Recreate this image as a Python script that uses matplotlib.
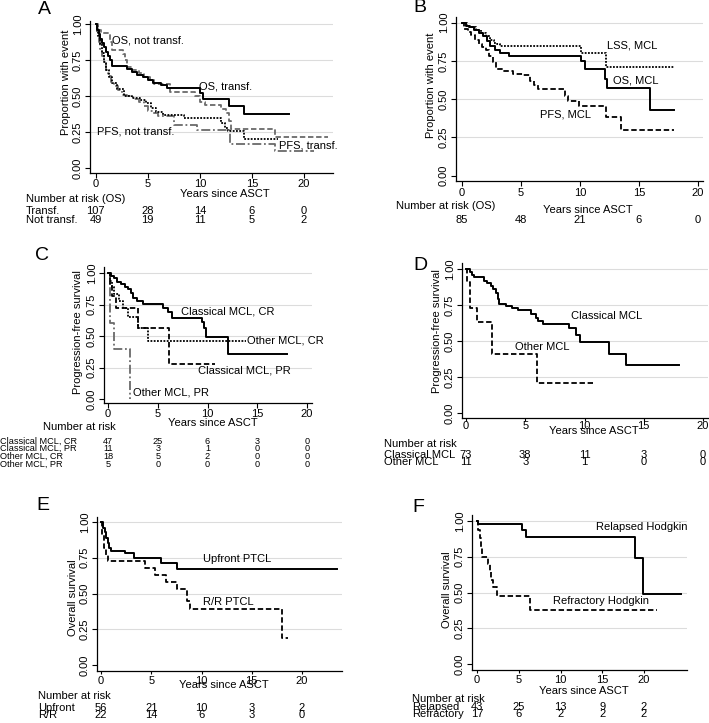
import numpy as np
import matplotlib
matplotlib.use("Agg")
import matplotlib.pyplot as plt
from matplotlib.transforms import blended_transform_factory

plt.rcParams['font.family'] = ['Liberation Sans', 'DejaVu Sans']

W, H = 709, 723

# ---- data ----
# A: transformed vs not transformed
a_os_tr_t = [0, 0.15, 0.3, 0.45, 0.6, 0.8, 1.0, 1.2, 1.4, 1.6, 3.0, 3.5, 4.0, 4.5, 5.0, 5.5, 6.3, 6.8, 10.0, 10.3, 12.8, 14.2, 18.6]
a_os_tr_s = [1.0, 0.96, 0.93, 0.90, 0.87, 0.84, 0.81, 0.78, 0.75, 0.71, 0.69, 0.67, 0.65, 0.63, 0.61, 0.59, 0.575, 0.555, 0.52, 0.48, 0.43, 0.375, 0.375]
a_os_nt_t = [0, 0.2, 0.5, 1.4, 1.6, 2.6, 2.8, 3.0, 3.5, 4.2, 4.6, 5.2, 5.6, 7.1, 9.5, 10.0, 10.5, 12.0, 12.5, 12.8, 13.0, 17.2, 22.3]
a_os_nt_s = [1.0, 0.96, 0.94, 0.88, 0.82, 0.79, 0.75, 0.70, 0.68, 0.66, 0.63, 0.61, 0.585, 0.53, 0.50, 0.46, 0.44, 0.41, 0.38, 0.33, 0.27, 0.215, 0.215]
a_pfs_tr_t = [0, 0.2, 0.4, 0.6, 0.8, 1.0, 1.3, 1.6, 2.0, 2.7, 3.5, 4.3, 4.8, 5.3, 5.8, 6.5, 8.5, 12.0, 12.4, 12.7, 14.2, 17.5]
a_pfs_tr_s = [1.0, 0.92, 0.86, 0.80, 0.74, 0.68, 0.63, 0.59, 0.55, 0.50, 0.49, 0.47, 0.45, 0.42, 0.39, 0.37, 0.35, 0.31, 0.28, 0.26, 0.20, 0.20]
a_pfs_nt_t = [0, 0.15, 0.3, 0.45, 0.6, 0.8, 1.0, 1.2, 1.5, 1.8, 2.1, 2.5, 3.0, 3.6, 4.2, 4.6, 5.0, 5.5, 6.0, 7.5, 9.7, 12.9, 17.2, 21.0]
a_pfs_nt_s = [1.0, 0.94, 0.88, 0.83, 0.78, 0.73, 0.68, 0.64, 0.60, 0.57, 0.54, 0.51, 0.50, 0.48, 0.46, 0.43, 0.40, 0.38, 0.36, 0.30, 0.265, 0.165, 0.115, 0.115]
a_risk_rows = ["Transf.", "Not transf."]
a_risk = [[107, 28, 14, 6, 0], [49, 19, 11, 5, 2]]

# B: MCL
b_os_t = [0, 0.3, 0.6, 1.0, 1.4, 1.8, 2.1, 2.4, 2.8, 3.2, 4.0, 10.1, 10.4, 12.1, 12.3, 15.9, 18.0]
b_os_s = [1.0, 0.98, 0.97, 0.95, 0.93, 0.91, 0.88, 0.85, 0.82, 0.80, 0.785, 0.75, 0.70, 0.63, 0.575, 0.43, 0.43]
b_lss_t = [0, 0.4, 0.8, 1.2, 1.6, 2.0, 2.4, 2.7, 3.0, 3.2, 10.1, 12.2, 18.0]
b_lss_s = [1.0, 0.98, 0.97, 0.95, 0.93, 0.91, 0.89, 0.87, 0.86, 0.845, 0.805, 0.71, 0.71]
b_pfs_t = [0, 0.2, 0.5, 0.8, 1.1, 1.4, 1.7, 2.0, 2.3, 2.6, 2.9, 3.5, 4.3, 5.2, 5.8, 6.1, 6.4, 8.7, 9.0, 9.9, 12.2, 13.5, 18.0]
b_pfs_s = [1.0, 0.96, 0.94, 0.92, 0.89, 0.86, 0.84, 0.82, 0.78, 0.74, 0.70, 0.685, 0.665, 0.655, 0.62, 0.59, 0.565, 0.52, 0.49, 0.455, 0.385, 0.30, 0.30]
b_risk = [85, 48, 21, 6, 0]

# C: MCL type x response
c_ccr_t = [0, 0.3, 0.6, 0.9, 1.3, 1.7, 2.0, 2.3, 2.5, 2.9, 3.5, 5.5, 6.0, 6.4, 9.4, 9.6, 9.8, 12.1, 18.0]
c_ccr_s = [1.0, 0.98, 0.96, 0.93, 0.91, 0.89, 0.87, 0.84, 0.80, 0.78, 0.755, 0.72, 0.69, 0.645, 0.61, 0.56, 0.49, 0.36, 0.36]
c_cpr_t = [0, 0.2, 0.4, 0.8, 3.0, 6.1, 10.8]
c_cpr_s = [1.0, 0.91, 0.82, 0.72, 0.56, 0.28, 0.28]
c_ocr_t = [0, 0.2, 0.4, 0.6, 1.1, 1.5, 2.0, 3.0, 4.0, 13.9]
c_ocr_s = [1.0, 0.94, 0.89, 0.83, 0.78, 0.72, 0.65, 0.56, 0.46, 0.46]
c_opr_t = [0, 0.2, 0.6, 2.2]
c_opr_s = [1.0, 0.6, 0.4, 0.0]
c_risk_rows = ["Classical MCL, CR", "Classical MCL, PR", "Other MCL, CR", "Other MCL, PR"]
c_risk = [[47, 25, 6, 3, 0], [11, 3, 1, 0, 0], [18, 5, 2, 0, 0], [5, 0, 0, 0, 0]]

# D: classical vs other MCL
d_cl_t = [0, 0.3, 0.5, 0.7, 1.5, 1.8, 2.1, 2.3, 2.5, 2.7, 2.8, 3.4, 3.9, 4.4, 5.5, 5.9, 6.1, 6.5, 8.7, 9.3, 9.6, 12.1, 13.5, 18.0]
d_cl_s = [1.0, 0.98, 0.96, 0.945, 0.92, 0.90, 0.88, 0.86, 0.83, 0.79, 0.755, 0.745, 0.73, 0.715, 0.685, 0.66, 0.64, 0.62, 0.59, 0.545, 0.49, 0.41, 0.33, 0.33]
d_ot_t = [0, 0.1, 0.3, 0.9, 2.2, 6.0, 10.7]
d_ot_s = [1.0, 0.91, 0.73, 0.63, 0.41, 0.21, 0.21]
d_risk_rows = ["Classical MCL", "Other MCL"]
d_risk = [[73, 38, 11, 3, 0], [11, 3, 1, 0, 0]]

# E: PTCL
e_up_t = [0, 0.2, 0.35, 0.5, 0.65, 0.8, 1.0, 2.4, 3.3, 6.0, 7.6, 23.5]
e_up_s = [1.0, 0.96, 0.93, 0.89, 0.85, 0.82, 0.80, 0.785, 0.75, 0.715, 0.67, 0.67]
e_rr_t = [0, 0.1, 0.3, 0.5, 0.7, 4.4, 5.4, 6.5, 7.6, 8.6, 8.9, 18.0, 18.6]
e_rr_s = [1.0, 0.91, 0.82, 0.77, 0.73, 0.68, 0.63, 0.58, 0.53, 0.45, 0.39, 0.19, 0.19]
e_risk_rows = ["Upfront", "R/R"]
e_risk = [[56, 21, 10, 3, 2], [22, 14, 6, 3, 0]]

# F: Hodgkin
f_rel_t = [0, 0.1, 5.4, 5.9, 18.9, 19.9, 24.4]
f_rel_s = [1.0, 0.977, 0.94, 0.89, 0.74, 0.49, 0.49]
f_ref_t = [0, 0.1, 0.3, 0.5, 0.6, 1.3, 1.5, 1.7, 1.9, 2.4, 6.3, 21.5]
f_ref_s = [1.0, 0.94, 0.88, 0.82, 0.75, 0.70, 0.65, 0.59, 0.54, 0.475, 0.38, 0.38]
f_risk_rows = ["Relapsed", "Refractory"]
f_risk = [[43, 25, 13, 9, 2], [17, 6, 2, 2, 2]]

risk_times = [0, 5, 10, 15, 20]
yticks = [0, 0.25, 0.5, 0.75, 1.0]

GRAY = "#6a6a6a"
SOLID = dict(color="black", lw=1.4, ls="-")
DASH = dict(color="black", lw=1.3, ls=(0, (3, 1.5)))
DOT = dict(color="black", lw=1.3, ls=(0, (1, 0.8)))
GDASH = dict(color=GRAY, lw=1.3, ls=(0, (3, 1.5)))
GDASHDOT = dict(color=GRAY, lw=1.3, ls=(0, (5, 1.5, 1, 1.5)))

fig = plt.figure(figsize=(W / 100, H / 100), dpi=100)


def ftext(x, y, s, **kw):
    kw.setdefault("fontsize", 8)
    fig.text(x / W, 1 - y / H, s, **kw)


def panel(L, R, T, B, x0, x20, y1, y0, tlen=3.5, tpad=1.5):
    ax = fig.add_axes([L / W, 1 - B / H, (R - L) / W, (B - T) / H])
    sx = (x20 - x0) / 20.0
    sy = y0 - y1
    ax.set_xlim((L - x0) / sx, (R - x0) / sx)
    ax.set_ylim((y0 - B) / sy, (y0 - T) / sy)
    for s in ["top", "right"]:
        ax.spines[s].set_visible(False)
    ax.spines["left"].set_linewidth(0.9)
    ax.spines["bottom"].set_linewidth(0.9)
    ax.set_xticks(risk_times)
    ax.set_yticks(yticks)
    ax.set_yticklabels(["%.2f" % v for v in yticks], rotation=90, va="center")
    ax.tick_params(axis="y", length=3.5, width=0.8, labelsize=8, pad=1.5)
    ax.tick_params(axis="x", length=tlen, width=0.8, labelsize=8, pad=tpad)
    for v in yticks[1:]:
        ax.axhline(v, color="#dcdcdc", lw=0.8, zorder=0)
    return ax


def kmstep(ax, t, s, style):
    ax.step(t, s, where="post", **style)


def risk_table(ax, rows, vals, ys, xlab, fs=8):
    tr = blended_transform_factory(ax.transData, fig.transFigure)
    for name, row, y in zip(rows, vals, ys):
        if name is not None:
            ftext(xlab, y, name, ha="left", va="center", fontsize=fs)
        for t, n in zip(risk_times, row):
            ax.text(t, 1 - y / H, str(n), transform=tr, ha="center", va="center", fontsize=fs)


# ---- A ----
ax = panel(90, 333, 21, 173, 95.7, 304, 24.3, 168, tpad=1.0)
kmstep(ax, a_pfs_nt_t, a_pfs_nt_s, GDASHDOT)
kmstep(ax, a_pfs_tr_t, a_pfs_tr_s, DOT)
kmstep(ax, a_os_nt_t, a_os_nt_s, GDASH)
kmstep(ax, a_os_tr_t, a_os_tr_s, SOLID)
ax.text(1.6, 0.886, "OS, not transf.", fontsize=8, va="center")
ax.text(9.9, 0.566, "OS, transf.", fontsize=8, va="center")
ax.text(0.1, 0.253, "PFS, not transf.", fontsize=8, va="center")
ax.text(17.6, 0.155, "PFS, transf.", fontsize=8, va="center")
ftext(44, 10, "A", fontsize=14, ha="center", va="center")
ftext(66, 82, "Proportion with event", rotation=90, ha="center", va="center")
ftext(224.5, 194, "Years since ASCT", ha="center", va="center")
ftext(26, 199.5, "Number at risk (OS)", ha="left", va="center")
risk_table(ax, a_risk_rows, a_risk, [210.7, 220], 26)

# ---- B ----
ax = panel(456, 703, 17, 181, 462, 698, 22.7, 175.7)
kmstep(ax, b_lss_t, b_lss_s, DOT)
kmstep(ax, b_pfs_t, b_pfs_s, DASH)
kmstep(ax, b_os_t, b_os_s, SOLID)
ax.text(12.26, 0.848, "LSS, MCL", fontsize=8, va="center")
ax.text(12.8, 0.625, "OS, MCL", fontsize=8, va="center")
ax.text(6.6, 0.397, "PFS, MCL", fontsize=8, va="center")
ftext(420, 8, "B", fontsize=14, ha="center", va="center")
ftext(431, 85, "Proportion with event", rotation=90, ha="center", va="center")
ftext(587.5, 209.5, "Years since ASCT", ha="center", va="center")
ftext(395.7, 205.7, "Number at risk (OS)", ha="left", va="center")
risk_table(ax, [None], [b_risk], [220], 0)

# ---- C ----
ax = panel(104, 312, 267, 403, 108, 307, 273, 399, tpad=1.0)
kmstep(ax, c_opr_t, c_opr_s, GDASHDOT)
kmstep(ax, c_ocr_t, c_ocr_s, DOT)
kmstep(ax, c_cpr_t, c_cpr_s, DASH)
kmstep(ax, c_ccr_t, c_ccr_s, SOLID)
ax.text(7.3, 0.698, "Classical MCL, CR", fontsize=8, va="center")
ax.text(14.0, 0.468, "Other MCL, CR", fontsize=8, va="center")
ax.text(9.05, 0.23, "Classical MCL, PR", fontsize=8, va="center")
ax.text(2.5, 0.05, "Other MCL, PR", fontsize=8, va="center")
ftext(42, 255, "C", fontsize=14, ha="center", va="center")
ftext(78, 332, "Progression-free survival", rotation=90, ha="center", va="center")
ftext(213, 422.5, "Years since ASCT", ha="center", va="center")
ftext(43, 427, "Number at risk", ha="left", va="center")
risk_table(ax, c_risk_rows, c_risk, [441, 448.7, 456.3, 464], 0, fs=6.6)

# ---- D ----
ax = panel(462, 708, 263, 418, 466, 703, 269, 413, tlen=2.0, tpad=0.5)
kmstep(ax, d_ot_t, d_ot_s, DASH)
kmstep(ax, d_cl_t, d_cl_s, SOLID)
ax.text(8.86, 0.674, "Classical MCL", fontsize=8, va="center")
ax.text(4.1, 0.456, "Other MCL", fontsize=8, va="center")
ftext(420, 266, "D", fontsize=14, ha="center", va="center")
ftext(436.7, 331, "Progression-free survival", rotation=90, ha="center", va="center")
ftext(593.8, 431, "Years since ASCT", ha="center", va="center")
ftext(384.3, 443.5, "Number at risk", ha="left", va="center")
risk_table(ax, d_risk_rows, d_risk, [455, 462.3], 384.3)

# ---- E ----
ax = panel(97, 342, 517, 671, 101, 302, 522, 665, tlen=2.5, tpad=0.8)
kmstep(ax, e_rr_t, e_rr_s, DASH)
kmstep(ax, e_up_t, e_up_s, SOLID)
ax.text(10.1, 0.74, "Upfront PTCL", fontsize=8, va="center")
ax.text(10.1, 0.443, "R/R PTCL", fontsize=8, va="center")
ftext(43, 506, "E", fontsize=14, ha="center", va="center")
ftext(72.7, 598, "Overall survival", rotation=90, ha="center", va="center")
ftext(224, 685, "Years since ASCT", ha="center", va="center")
ftext(37.7, 696, "Number at risk", ha="left", va="center")
risk_table(ax, e_risk_rows, e_risk, [708.3, 715.3], 37.7)

# ---- F ----
ax = panel(472, 687, 515, 670, 477, 644, 521, 664, tlen=2.5, tpad=0.8)
kmstep(ax, f_ref_t, f_ref_s, DASH)
kmstep(ax, f_rel_t, f_rel_s, SOLID)
ax.text(14.2, 0.956, "Relapsed Hodgkin", fontsize=8, va="center")
ax.text(9.1, 0.44, "Refractory Hodgkin", fontsize=8, va="center")
ftext(418, 508, "F", fontsize=14, ha="center", va="center")
ftext(446.7, 590, "Overall survival", rotation=90, ha="center", va="center")
ftext(584, 690.5, "Years since ASCT", ha="center", va="center")
ftext(411.7, 699, "Number at risk", ha="left", va="center")
risk_table(ax, f_risk_rows, f_risk, [706.7, 714], 411.7)

fig.savefig("out.png", dpi=100)
